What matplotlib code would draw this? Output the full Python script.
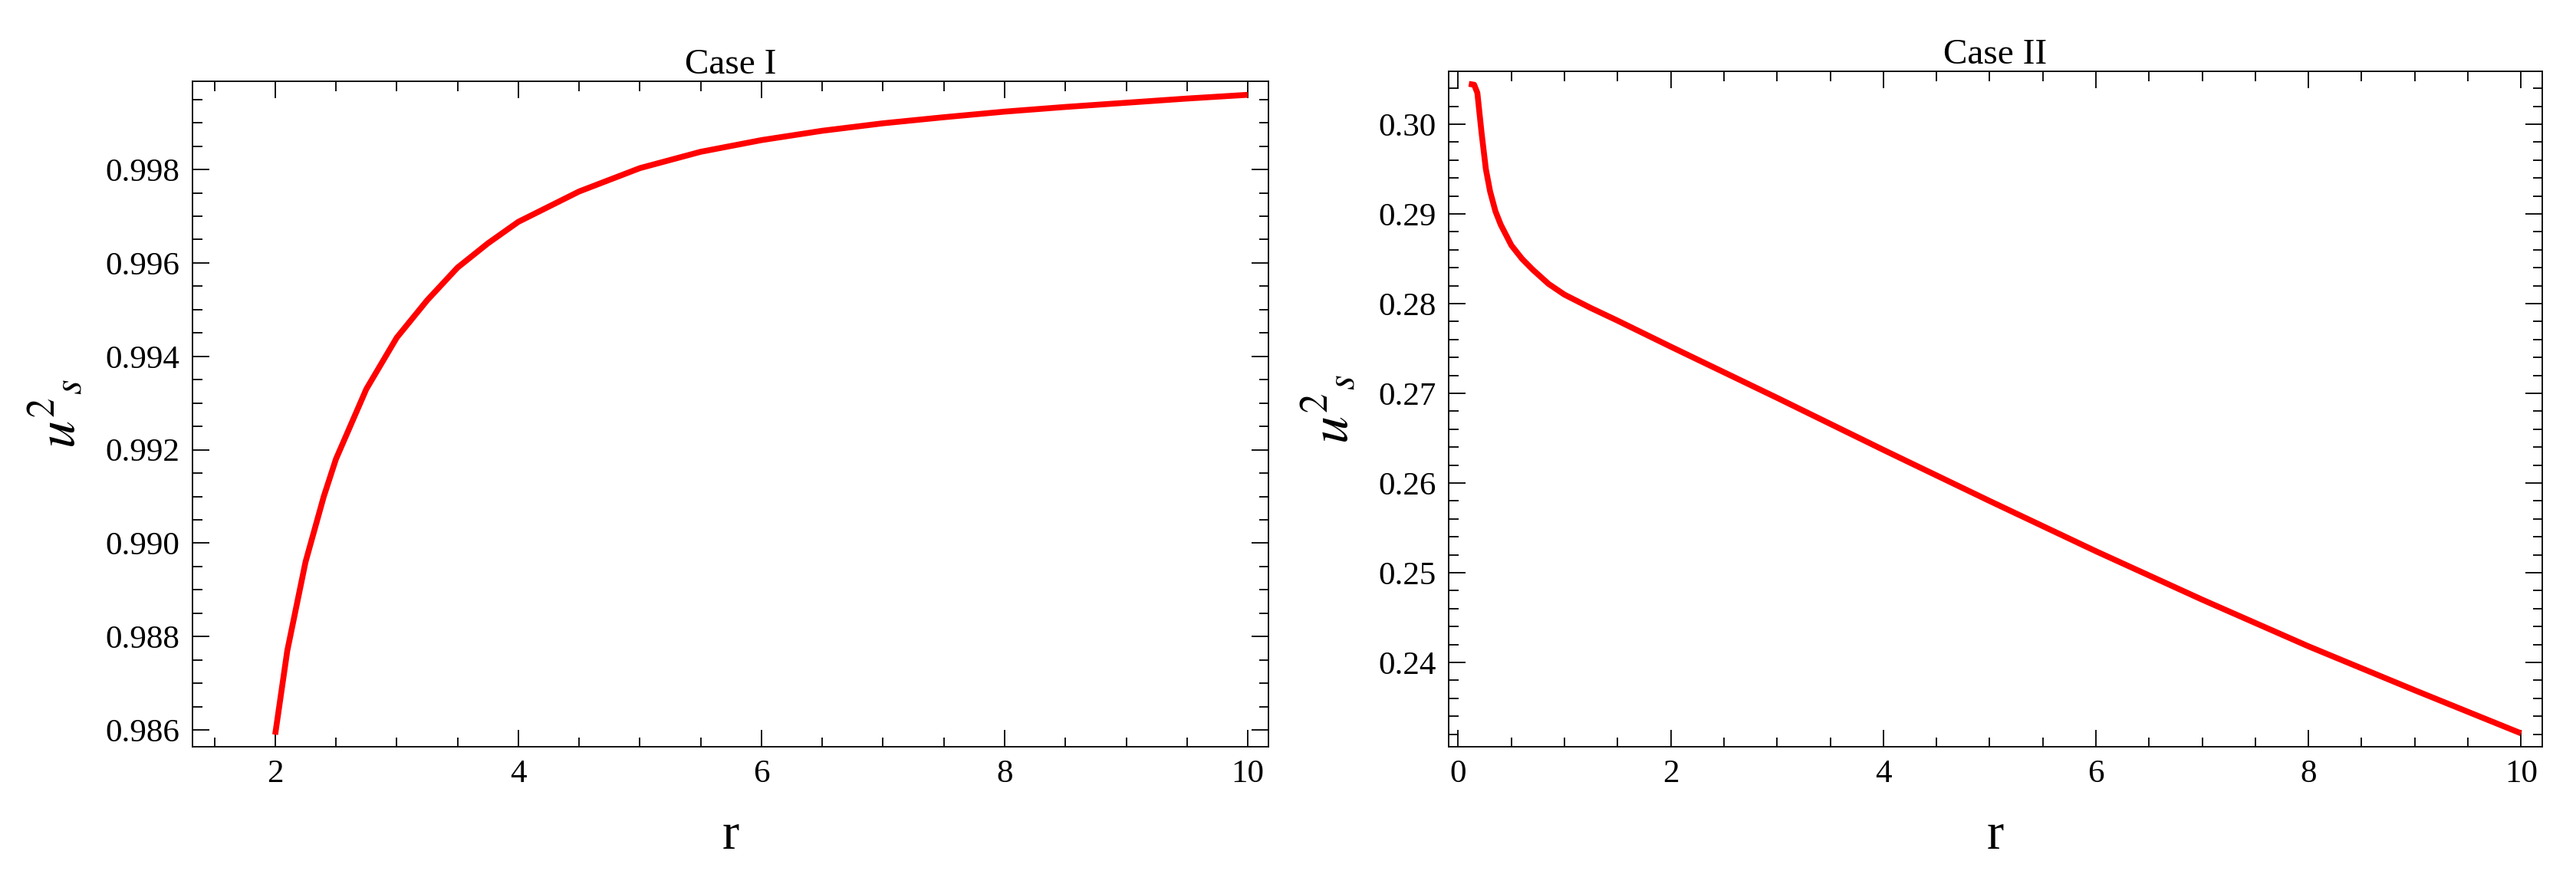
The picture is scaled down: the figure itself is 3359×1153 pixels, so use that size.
import matplotlib
matplotlib.use('Agg')
import matplotlib.pyplot as plt
from matplotlib.ticker import MultipleLocator

# Case I: r vs u_s^2
r1 = [2.0, 2.1, 2.25, 2.4, 2.5, 2.75, 3.0, 3.25, 3.5, 3.75, 4.0, 4.5, 5.0,
      5.5, 6.0, 6.5, 7.0, 7.5, 8.0, 8.5, 9.0, 9.5, 10.0]
u1 = [0.9859, 0.9877, 0.9896, 0.9910, 0.9918, 0.9933, 0.99440, 0.9952, 0.99590,
      0.99642, 0.99688, 0.99753, 0.99803, 0.99838, 0.99863, 0.99883, 0.99899,
      0.99912, 0.99924, 0.99934, 0.99943, 0.99952, 0.99960]

# Case II
r2 = [0.1, 0.15, 0.18, 0.22, 0.26, 0.3, 0.35, 0.4, 0.5, 0.6, 0.7, 0.85, 1.0,
      1.25, 1.5, 2.0, 3.0, 4.0, 5.0, 6.0, 7.0, 8.0, 9.0, 10.0]
u2 = [0.3045, 0.3044, 0.3035, 0.2990, 0.2950, 0.2925, 0.2903, 0.2888, 0.2865,
      0.2850, 0.2838, 0.2822, 0.2810, 0.2795, 0.2781, 0.2752, 0.2695, 0.2637,
      0.2580, 0.2524, 0.2470, 0.2418, 0.2369, 0.2321]

plt.rcParams['font.family'] = ['Liberation Serif', 'DejaVu Serif']
plt.rcParams['mathtext.fontset'] = 'stix'

fig = plt.figure(figsize=(33.59, 11.53), dpi=100)
ax1 = fig.add_axes([251 / 3359, 179 / 1153, 1403 / 3359, 868 / 1153])
ax2 = fig.add_axes([1889 / 3359, 179 / 1153, 1426 / 3359, 881 / 1153])

ax1.plot(r1, u1, color='#ff0000', lw=5.5, solid_capstyle='butt')
ax2.plot(r2, u2, color='#ff0000', lw=5.5, solid_capstyle='butt')

ax1.set_xlim(1.32, 10.17)
ax1.set_ylim(0.98564, 0.99989)
ax1.xaxis.set_major_locator(MultipleLocator(2))
ax1.xaxis.set_minor_locator(MultipleLocator(0.5))
ax1.yaxis.set_major_locator(MultipleLocator(0.002))
ax1.yaxis.set_minor_locator(MultipleLocator(0.0005))
ax1.yaxis.set_major_formatter(matplotlib.ticker.FormatStrFormatter('%.3f'))

ax2.set_xlim(-0.09, 10.2)
ax2.set_ylim(0.2306, 0.3059)
ax2.xaxis.set_major_locator(MultipleLocator(2))
ax2.xaxis.set_minor_locator(MultipleLocator(0.5))
ax2.yaxis.set_major_locator(MultipleLocator(0.01))
ax2.yaxis.set_minor_locator(MultipleLocator(0.002))
ax2.yaxis.set_major_formatter(matplotlib.ticker.FormatStrFormatter('%.2f'))

for ax, title in [(ax1, 'Case I'), (ax2, 'Case II')]:
    ax.tick_params(which='both', direction='in', top=True, right=True,
                   labelsize=31, width=1.3, pad=12)
    ax.tick_params(which='major', length=16)
    ax.tick_params(which='minor', length=9)
    for sp in ax.spines.values():
        sp.set_linewidth(1.3)
    ax.set_title(title, fontsize=34, pad=4)
    ax.set_xlabel('r', fontsize=48, labelpad=22)
    ax.set_ylabel(r'$u^2{}_s$', fontsize=52, labelpad=18)

fig.savefig('out.png', dpi=100)
